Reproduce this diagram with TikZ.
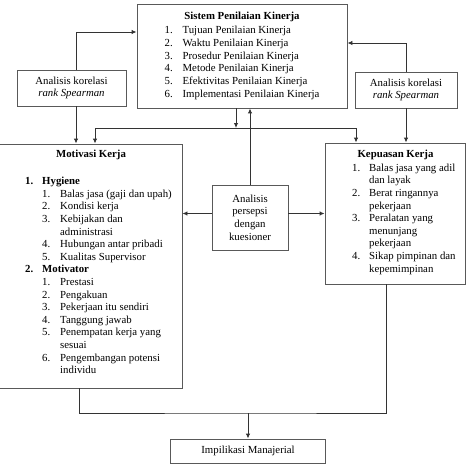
\documentclass[tikz,border=0pt]{standalone}
\usepackage{fontspec}
\setmainfont{Liberation Serif}
\usetikzlibrary{positioning,calc,arrows.meta}

\begin{document}
\begin{tikzpicture}[x=1pt,y=-1pt,
    >={Latex[length=5pt,width=4.5pt]},
    kotak/.style={draw=black!65, line width=0.9pt, inner sep=0pt, align=center,
        font={\fontsize{10.8}{12.6}\selectfont}},
    isi/.style={inner sep=0pt, anchor=north west, font={\fontsize{10.8}{12.6}\selectfont}},
    judul/.style={inner sep=0pt, font={\fontsize{10.8}{12.6}\selectfont\bfseries}},
    garis/.style={draw=black!80, line width=0.9pt}]
    \useasboundingbox (0,0) rectangle (468,476);
    % Sistem penilaian
    \node[kotak, minimum width=210pt, minimum height=104pt,
        font={\fontsize{10.8}{12.7}\selectfont}] (sistem) at (242,56) {%
        \begin{tabular}{@{}p{18pt}@{}l@{}}
        \multicolumn{2}{c}{\textbf{Sistem Penilaian Kinerja}}\\[1.2pt]
        1. & Tujuan Penilaian Kinerja\\
        2. & Waktu Penilaian Kinerja\\
        3. & Prosedur Penilaian Kinerja\\
        4. & Metode Penilaian Kinerja\\
        5. & Efektivitas Penilaian Kinerja\\
        6. & Implementasi Penilaian Kinerja
        \end{tabular}};
    % Analisis korelasi
    \node[kotak, minimum width=109pt, minimum height=36pt] (korelasikiri) at (71.5,88)
        {Analisis korelasi\\\textit{rank Spearman}};
    \node[kotak, minimum width=102pt, minimum height=36pt] (korelasikanan) at (406,90)
        {Analisis korelasi\\\textit{rank Spearman}};
    % Motivasi
    \node[kotak, minimum width=183pt, minimum height=244pt] (motivasi) at (90.5,266) {};
    \node[judul] (judulmotivasi) at (91,155) {Motivasi Kerja};
    \node[isi] (isimotivasi) at (25,175.6) {%
        \begin{tabular}{@{}p{17pt}@{}p{18pt}@{}l@{}}
        \textbf{1.} & \multicolumn{2}{@{}l@{}}{\textbf{Hygiene}}\\
        & 1. & Balas jasa (gaji dan upah)\\
        & 2. & Kondisi kerja\\
        & 3. & Kebijakan dan\\
        & & administrasi\\
        & 4. & Hubungan antar pribadi\\
        & 5. & Kualitas Supervisor\\
        \textbf{2.} & \multicolumn{2}{@{}l@{}}{\textbf{Motivator}}\\
        & 1. & Prestasi\\
        & 2. & Pengakuan\\
        & 3. & Pekerjaan itu sendiri\\
        & 4. & Tanggung jawab\\
        & 5. & Penempatan kerja yang\\
        & & sesuai\\
        & 6. & Pengembangan potensi\\
        & & individu
        \end{tabular}};
    % Kepuasan
    \node[kotak, minimum width=140pt, minimum height=141pt] (kepuasan) at (395,213.5) {};
    \node[judul] (judulkepuasan) at (395.5,155) {Kepuasan Kerja};
    \node[isi] (isikepuasan) at (352,162.2) {%
        \begin{tabular}{@{}p{17pt}@{}l@{}}
        1. & Balas jasa yang adil\\
        & dan layak\\
        2. & Berat ringannya\\
        & pekerjaan\\
        3. & Peralatan yang\\
        & menunjang\\
        & pekerjaan\\
        4. & Sikap pimpinan dan\\
        & kepemimpinan
        \end{tabular}};
    % Persepsi dan implikasi
    \node[kotak, minimum width=76pt, minimum height=65pt] (persepsi) at (250,217.5)
        {Analisis\\persepsi\\dengan\\kuesioner};
    \node[kotak, minimum width=155pt, minimum height=24pt] (impl) at (248,451)
        {Impilikasi Manajerial};

    % Titik bantu
    \coordinate (kiriatas) at ([xshift=4.5pt]korelasikiri.north);
    \coordinate (kiribawah) at ([xshift=4.5pt]korelasikiri.south);
    \coordinate (turun) at ([xshift=-6pt]sistem.south);
    \coordinate (cabangkiri) at (95,128);
    \coordinate (cabangkanan) at (356,128);
    \coordinate (pkiri) at ([yshift=4pt]persepsi.west);
    \coordinate (pkanan) at ([yshift=4pt]persepsi.east);
    \coordinate (bawahkiri) at ([xshift=-11.5pt]motivasi.south);
    \coordinate (bawahkanan) at ([xshift=-9pt]kepuasan.south);
    \coordinate (gabung) at (248,413);

    % Panah
    \draw[garis,->] (kiriatas) |- ([yshift=24pt]sistem.west);
    \draw[garis,->] (kiribawah) -- (kiribawah |- motivasi.north);
    \draw[garis,->] (korelasikanan.north) |- ([yshift=13pt]sistem.east);
    \draw[garis,->] (korelasikanan.south) -- (korelasikanan.south |- kepuasan.north);
    \draw[garis,->] (turun) -- (turun |- cabangkiri);
    \draw[garis] (cabangkiri) -- (cabangkanan);
    \draw[garis,->] (cabangkiri) -- (cabangkiri |- motivasi.north);
    \draw[garis,->] (cabangkanan) -- (cabangkanan |- kepuasan.north);
    \draw[garis,->] (persepsi.north) -- (persepsi.north |- sistem.south);
    \draw[garis,->] (pkiri) -- (pkiri -| motivasi.east);
    \draw[garis,->] (pkanan) -- (pkanan -| kepuasan.west);
    \draw[garis] (bawahkiri) |- (gabung) -| (bawahkanan);
    \draw[garis,->] (gabung) -- (impl.north);
\end{tikzpicture}
\end{document}
